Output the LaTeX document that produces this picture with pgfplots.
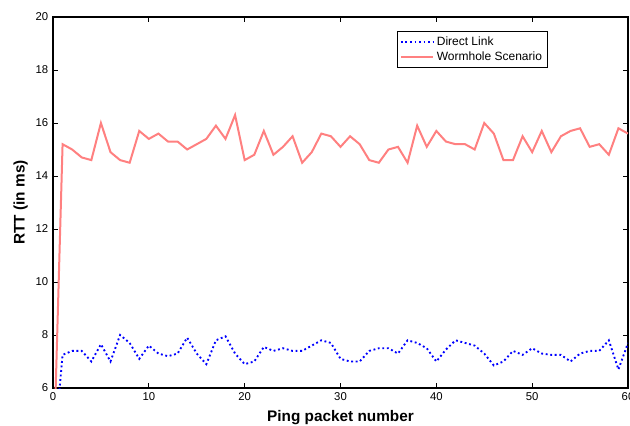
\documentclass[border=0pt]{standalone}
\usepackage{pgfplots}
\pgfplotsset{compat=1.18}
\usepackage{fontspec}
\setmainfont{Liberation Sans}
\usetikzlibrary{calc}
\definecolor{wormred}{RGB}{255,128,128}
\begin{document}
\begin{tikzpicture}
\begin{axis}[
  name=ax,
  scale only axis,
  width=431.25pt, height=278.25pt,
  xmin=0, xmax=60, ymin=6, ymax=20,
  xtick={0,10,...,60}, ytick={6,8,...,20},
  tick pos=both, tick align=inside,
  major tick length=4pt,
  axis line style={line width=0.8pt},
  every tick/.style={black, line width=0.6pt},
  tick label style={font=\fontsize{8.5}{10}\selectfont},
  /pgf/number format/assume math mode=true,
  xlabel={\textbf{Ping packet number}},
  ylabel={\textbf{RTT (in ms)}},
  label style={font=\fontsize{11.5}{13}\selectfont},
  xlabel style={yshift=0pt},
  ylabel style={yshift=-1pt},
  clip=true,
  legend style={at={(0.598,0.963)}, anchor=north west, draw=black, line width=0.6pt,
    font=\fontsize{9}{10.5}\selectfont, inner xsep=2pt, inner ysep=2pt, row sep=-0.5pt,
    legend cell align=left},
  legend image code/.code={\draw[#1] (0cm,0cm) -- (0.85cm,0cm);},
]
\addplot[blue, line width=1.4pt, dotted] coordinates {
(0,3.2)(1,7.25)(2,7.4)(3,7.4)(4,7.0)(5,7.65)(6,7.0)(7,8.0)(8,7.7)(9,7.1)(10,7.6)
(11,7.3)(12,7.2)(13,7.3)(14,7.9)(15,7.3)(16,6.9)(17,7.8)(18,7.95)(19,7.3)(20,6.9)
(21,7.0)(22,7.55)(23,7.4)(24,7.5)(25,7.4)(26,7.4)(27,7.6)(28,7.8)(29,7.7)(30,7.1)
(31,7.0)(32,7.0)(33,7.4)(34,7.5)(35,7.5)(36,7.3)(37,7.8)(38,7.7)(39,7.5)(40,7.0)
(41,7.45)(42,7.8)(43,7.7)(44,7.6)(45,7.3)(46,6.85)(47,7.0)(48,7.4)(49,7.25)(50,7.5)
(51,7.3)(52,7.25)(53,7.25)(54,7.0)(55,7.3)(56,7.4)(57,7.4)(58,7.8)(59,6.7)(60,7.7)
};
\addlegendentry{Direct Link}
\addplot[wormred, line width=1.5pt] coordinates {
(0,2.4)(1,15.2)(2,15.0)(3,14.7)(4,14.6)(5,16.0)(6,14.9)(7,14.6)(8,14.5)(9,15.7)(10,15.4)
(11,15.6)(12,15.3)(13,15.3)(14,15.0)(15,15.2)(16,15.4)(17,15.9)(18,15.4)(19,16.3)(20,14.6)
(21,14.8)(22,15.7)(23,14.8)(24,15.1)(25,15.5)(26,14.5)(27,14.9)(28,15.6)(29,15.5)(30,15.1)
(31,15.5)(32,15.2)(33,14.6)(34,14.5)(35,15.0)(36,15.1)(37,14.5)(38,15.9)(39,15.1)(40,15.7)
(41,15.3)(42,15.2)(43,15.2)(44,15.0)(45,16.0)(46,15.6)(47,14.6)(48,14.6)(49,15.5)(50,14.9)
(51,15.7)(52,14.9)(53,15.5)(54,15.7)(55,15.8)(56,15.1)(57,15.2)(58,14.8)(59,15.8)(60,15.6)
};
\addlegendentry{Wormhole Scenario}
\end{axis}
\pgfresetboundingbox
\path[use as bounding box] ($(ax.south west)+(-39.75pt,-27.75pt)$) rectangle ($(ax.north east)+(1.5pt,12.75pt)$);
\end{tikzpicture}
\end{document}
